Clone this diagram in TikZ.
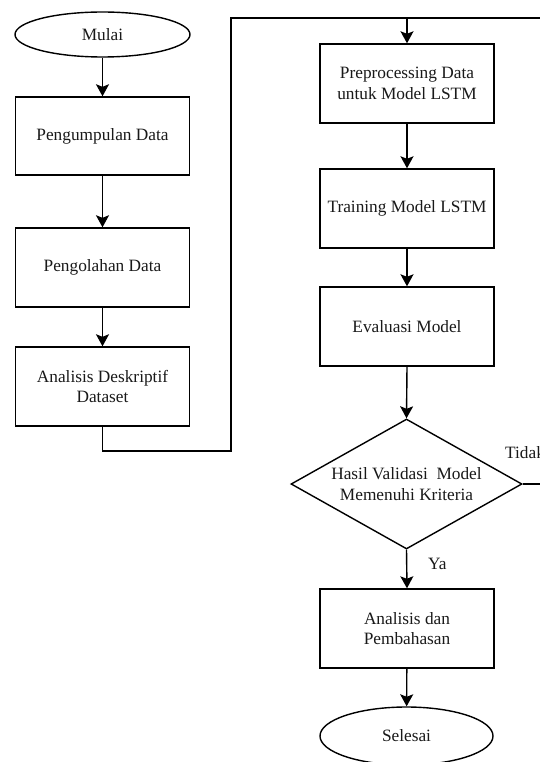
\documentclass[tikz,border=0pt]{standalone}
\usepackage{fontspec}
\setmainfont{Liberation Serif}
\usetikzlibrary{shapes.geometric,arrows.meta}
\begin{document}
\begin{tikzpicture}[x=1pt,y=-1pt,
  every node/.style={font=\fontsize{17.3}{20.5}\selectfont, text=black!90},
  procbox/.style={draw, line width=1.4pt, rectangle, minimum width=174pt, minimum height=79pt, inner sep=0pt, align=center},
  termbox/.style={draw, line width=1.4pt, ellipse, minimum width=175pt, inner sep=0pt},
  conn/.style={draw, line width=1.4pt},
  arr/.style={conn, -{Stealth[length=12pt,width=13pt,inset=2.5pt]}}]
\useasboundingbox[fill=white] (0,0) rectangle (539,762);
% left column
\node[termbox, minimum height=45pt] (mulai) at (102.5,34.5) {Mulai};
\node[procbox, minimum height=78pt] (kumpul) at (102.5,136) {Pengumpulan Data};
\node[procbox] (olah) at (102.5,267.5) {Pengolahan Data};
\node[procbox] (anal) at (102.5,386.5) {Analisis Deskriptif\\Dataset};
% right column
\node[procbox] (pre) at (407,83.5) {Preprocessing Data\\untuk Model LSTM};
\node[procbox] (train) at (407,208.5) {Training Model LSTM};
\node[procbox] (eval) at (407,326.5) {Evaluasi Model};
\node[diamond, draw, line width=1.4pt, minimum width=231pt, minimum height=130pt, inner sep=0pt] (dia) at (406.5,484) {};
\node[align=center] (diatext) at (dia.center) {Hasil Validasi\ \ Model\\Memenuhi Kriteria};
\node[procbox] (anpem) at (407,628.5) {Analisis dan\\Pembahasan};
\node[termbox, minimum width=173pt, minimum height=58pt] (selesai) at (406.5,736) {Selesai};
% labels
\node[anchor=west, inner sep=0pt] (tidak) at (505,453) {Tidak};
\node[anchor=west, inner sep=0pt] (ya) at (428,564) {Ya};
% coordinates
\coordinate (c1) at (102.5,451);
\coordinate (c2) at (231,451);
\coordinate (c3) at (231,18);
\coordinate (c4) at (407,18);
\coordinate (c5) at (560,18);
\coordinate (c6) at (560,484);
% connectors
\draw[arr] (mulai) -- (kumpul);
\draw[arr] (kumpul) -- (olah);
\draw[arr] (olah) -- (anal);
\draw[conn] (anal.south) -- (c1) -- (c2) -- (c3) -- (c4);
\draw[arr] (c4) -- (pre.north);
\draw[conn] (dia.east) -- (c6) -- (c5) -- (c4);
\draw[arr] (pre) -- (train);
\draw[arr] (train) -- (eval);
\draw[arr] (eval.south) -- (dia.north);
\draw[arr] (dia.south) -- (anpem.north);
\draw[arr] (anpem) -- (selesai);
\end{tikzpicture}
\end{document}
